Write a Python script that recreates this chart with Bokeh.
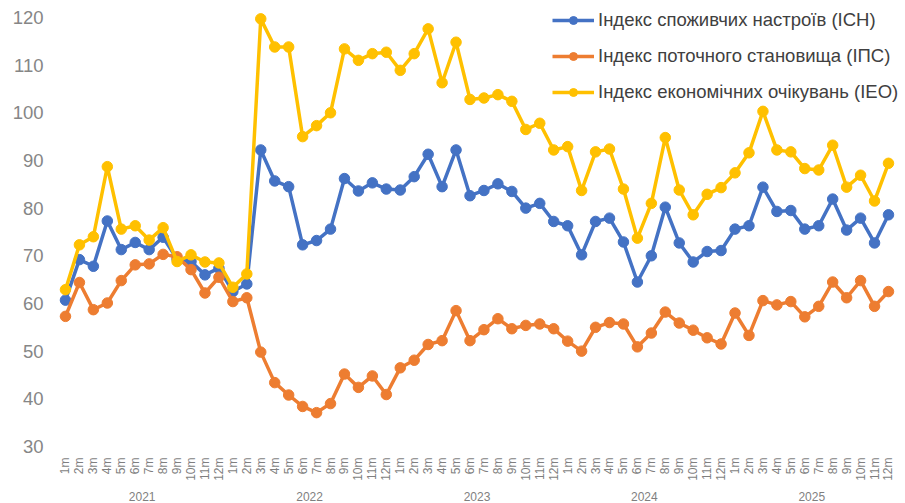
import math
from bokeh.plotting import figure
from bokeh.models import (FixedTicker, LinearAxis, Legend, LegendItem, Range1d)
from bokeh.embed import file_html
from bokeh.resources import INLINE

years = ["2021", "2022", "2023", "2024", "2025"]
months = [f"{m}m" for m in range(1, 13)]

ich = [60.7, 69.2, 67.8, 77.3, 71.3, 72.8, 71.3, 73.9, 69.3, 68.8, 66.0, 67.4,
       62.5, 64.1, 92.2, 85.7, 84.5, 72.3, 73.2, 75.6, 86.2, 83.6, 85.3, 84.0,
       83.8, 86.6, 91.3, 84.5, 92.2, 82.6, 83.7, 85.1, 83.5, 80.0, 81.0, 77.2,
       76.3, 70.2, 77.2, 77.9, 72.9, 64.5, 70.0, 80.2, 72.7, 68.7, 70.9, 71.1,
       75.6, 76.3, 84.4, 79.3, 79.5, 75.6, 76.3, 81.9, 75.4, 77.9, 72.7, 78.6]

ips = [57.3, 64.4, 58.7, 60.1, 64.8, 68.1, 68.3, 70.3, 69.8, 67.1, 62.2, 65.5,
       60.4, 61.2, 49.8, 43.4, 40.8, 38.4, 37.1, 39.0, 45.2, 42.4, 44.8, 40.9,
       46.5, 48.1, 51.4, 52.2, 58.5, 52.2, 54.5, 56.8, 54.7, 55.4, 55.7, 54.7,
       52.1, 50.0, 55.0, 56.0, 55.7, 50.9, 53.8, 58.2, 55.9, 54.4, 52.8, 51.5,
       58.0, 53.3, 60.6, 59.7, 60.4, 57.2, 59.4, 64.5, 61.2, 64.8, 59.4, 62.5]

ieo = [62.9, 72.3, 74.0, 88.7, 75.6, 76.3, 73.3, 75.9, 68.8, 70.2, 68.7, 68.5,
       63.4, 66.2, 119.7, 113.8, 113.8, 95.0, 97.3, 100.0, 113.4, 111.0, 112.4, 112.7,
       108.9, 112.4, 117.6, 106.3, 114.8, 102.8, 103.1, 103.8, 102.4, 96.5, 97.8, 92.2,
       92.9, 83.7, 91.8, 92.4, 84.0, 73.7, 81.0, 94.8, 83.8, 78.6, 82.9, 84.3,
       87.4, 91.6, 100.3, 92.2, 91.8, 88.3, 88.0, 93.2, 84.4, 86.9, 81.5, 89.4]

series_names = ["Індекс споживчих настроїв (ICH)",
                "Індекс поточного становища (ІПС)",
                "Індекс економічних очікувань (IEO)"]
colors = ["#4472C4", "#ED7D31", "#FFC000"]

n = len(years) * len(months)
xs = list(range(n))
month_labels = {i: months[i % 12] for i in xs}
year_ticks = [i * 12 + 5.5 for i in range(len(years))]
year_labels = {t: y for t, y in zip(year_ticks, years)}

FONT = "Liberation Sans"

# frame spans the full width/top so the legend is not clipped;
# ranges are widened so that months and 30..120 keep their positions
p = figure(width=905, height=503, output_backend="svg", toolbar_location=None,
           x_range=Range1d(-0.5, 60.22), y_range=Range1d(30, 123.55),
           x_axis_location=None, y_axis_location=None)
p.min_border_left = 58
p.min_border_right = 0
p.min_border_top = 0
p.min_border_bottom = 55
p.outline_line_color = None
p.xgrid.visible = False
p.ygrid.visible = False
p.background_fill_color = "white"
p.border_fill_color = "white"

# y axis
yax = LinearAxis(ticker=FixedTicker(ticks=list(range(30, 121, 10))))
yax.axis_line_color = None
yax.major_tick_line_color = None
yax.minor_tick_line_color = None
yax.major_label_text_font = FONT
yax.major_label_text_font_size = "18.5px"
yax.major_label_text_color = "#868686"
yax.major_label_standoff = 9
p.add_layout(yax, "left")

# month axis
xax = LinearAxis(ticker=FixedTicker(ticks=xs), major_label_overrides=month_labels)
xax.axis_line_color = None
xax.major_tick_line_color = None
xax.minor_tick_line_color = None
xax.major_label_orientation = math.pi / 2
xax.major_label_text_font = FONT
xax.major_label_text_font_size = "12px"
xax.major_label_text_color = "#7f7f7f"
xax.major_label_standoff = 5
p.add_layout(xax, "below")

# year axis
yrax = LinearAxis(ticker=FixedTicker(ticks=year_ticks), major_label_overrides=year_labels)
yrax.axis_line_color = None
yrax.major_tick_line_color = None
yrax.minor_tick_line_color = None
yrax.major_label_text_font = FONT
yrax.major_label_text_font_size = "12px"
yrax.major_label_text_color = "#7f7f7f"
yrax.major_label_standoff = 2
p.add_layout(yrax, "below")

items = []
for name, vals, c in zip(series_names, [ich, ips, ieo], colors):
    l = p.line(xs, vals, line_color=c, line_width=3.5)
    s = p.scatter(xs, vals, size=10.5, fill_color=c, line_color=c)
    items.append(LegendItem(label=name, renderers=[l, s]))

legend = Legend(items=items, location=(494, 343))
legend.background_fill_alpha = 0
legend.border_line_color = None
legend.padding = 0
legend.margin = 0
legend.glyph_width = 42
legend.glyph_height = 20
legend.label_height = 20
legend.spacing = 14
legend.label_standoff = 4
legend.label_text_font = FONT
legend.label_text_font_size = "18.5px"
legend.label_text_color = "#404040"
p.add_layout(legend, "center")

open("out.html", "w").write(file_html(p, INLINE))
